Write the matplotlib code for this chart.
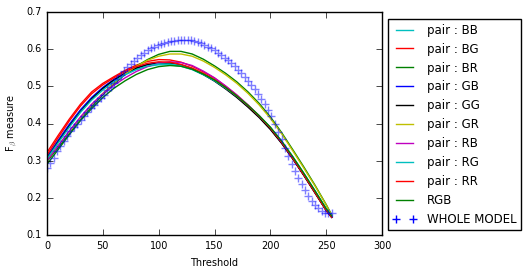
import numpy as np
import matplotlib
matplotlib.use('Agg')
import matplotlib.pyplot as plt

plt.style.use('classic')

# thresholds for the pair / RGB curves
thr = [0, 10, 20, 30, 40, 50, 60, 70, 80, 90, 100, 110, 120, 130, 140, 150,
       160, 170, 180, 190, 200, 210, 220, 230, 240, 250, 255]

pair_BB = [.310, .352, .395, .435, .468, .495, .517, .533, .546, .554, .558, .558, .554, .545,
           .531, .515, .495, .472, .447, .420, .389, .352, .310, .265, .218, .170, .150]
pair_BG = [.322, .368, .412, .452, .485, .508, .526, .543, .557, .567, .572, .571, .565, .554,
           .539, .522, .500, .476, .449, .420, .387, .349, .306, .261, .214, .166, .148]
pair_BR = [.298, .335, .373, .410, .445, .477, .506, .532, .554, .572, .586, .594, .594, .587,
           .573, .555, .535, .512, .485, .454, .418, .376, .330, .283, .234, .182, .154]
pair_GB = [.310, .355, .398, .437, .470, .497, .519, .536, .550, .559, .563, .563, .558, .548,
           .533, .516, .495, .472, .446, .418, .386, .349, .307, .262, .215, .167, .148]
pair_GG = [.305, .350, .393, .432, .466, .494, .517, .535, .549, .558, .562, .562, .557, .547,
           .532, .514, .493, .470, .444, .416, .384, .347, .305, .260, .213, .166, .147]
pair_GR = [.302, .340, .378, .415, .450, .481, .509, .533, .554, .570, .581, .587, .587, .581,
           .568, .551, .531, .508, .481, .450, .414, .373, .327, .280, .232, .181, .153]
pair_RB = [.300, .340, .380, .418, .452, .480, .503, .523, .540, .553, .562, .566, .564, .556,
           .541, .523, .501, .477, .450, .421, .389, .351, .308, .263, .216, .168, .149]
pair_RG = [.305, .348, .390, .430, .463, .490, .513, .531, .545, .555, .560, .560, .556, .546,
           .532, .515, .495, .473, .448, .421, .390, .353, .311, .266, .219, .171, .151]
pair_RR = [.315, .362, .407, .447, .480, .504, .523, .540, .553, .562, .566, .565, .559, .549,
           .535, .518, .497, .474, .448, .420, .388, .350, .307, .262, .215, .167, .148]
rgb = [.290, .330, .370, .408, .440, .470, .495, .515, .532, .545, .553, .556, .554, .546,
       .533, .517, .497, .474, .449, .421, .390, .353, .311, .266, .219, .171, .151]

# whole model, sampled every 3 levels
thr_whole = list(range(0, 256, 3))
whole = [.280, .294, .308, .325, .339, .353, .366, .379, .390, .400, .410, .421, .431, .442,
         .451, .460, .469, .478, .489, .499, .510, .521, .531, .542, .551, .561, .569, .577,
         .585, .591, .597, .602, .606, .610, .613, .616, .618, .621, .622, .624, .625, .625,
         .625, .624, .622, .619, .616, .612, .607, .602, .597, .591, .585, .577, .570, .562,
         .554, .545, .535, .525, .515, .504, .492, .479, .466, .452, .436, .419, .399, .378,
         .357, .335, .313, .292, .272, .253, .236, .220, .205, .191, .180, .172, .165, .160,
         .158, .160]

series = [('pair : BB', pair_BB, 'c'), ('pair : BG', pair_BG, 'r'),
          ('pair : BR', pair_BR, 'g'), ('pair : GB', pair_GB, 'b'),
          ('pair : GG', pair_GG, 'k'), ('pair : GR', pair_GR, 'y'),
          ('pair : RB', pair_RB, 'm'), ('pair : RG', pair_RG, 'c'),
          ('pair : RR', pair_RR, 'r'), ('RGB', rgb, 'g')]

fig = plt.figure(figsize=(5.29, 2.71), dpi=100, facecolor='w')
ax = fig.add_axes([47/529., 1-235/271., (382-47)/529., (235-12)/271.])

for name, vals, col in series:
    ax.plot(thr, vals, color=col, lw=1.0, label=name)
ax.plot(thr_whole, whole, '+', color='b', ms=6, mew=1.0, alpha=0.5, label='WHOLE MODEL')

ax.set_xlim(0, 300)
ax.set_ylim(0.1, 0.7)
ax.tick_params(labelsize=7, direction='in')
ax.set_xlabel('Threshold', fontsize=7)
ax.set_ylabel(r'F$_\beta$ measure', fontsize=7)

leg = ax.legend(loc='upper left', bbox_to_anchor=(388/529., 1-19/271.),
                bbox_transform=fig.transFigure, fontsize=8.5, numpoints=2,
                handlelength=2.0, handletextpad=0.9, labelspacing=0.5,
                borderpad=0.4, borderaxespad=0)
for lh in leg.legend_handles:
    lh.set_alpha(1)

fig.savefig('out.png', dpi=100, facecolor='w')
